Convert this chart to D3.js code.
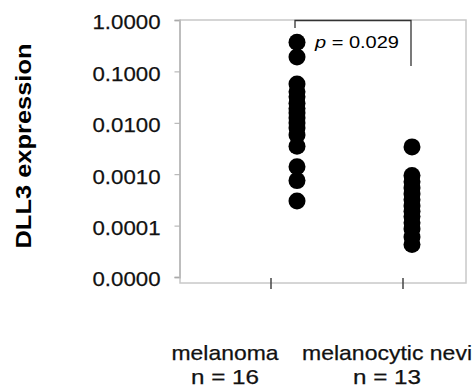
<!DOCTYPE html>
<html>
<head>
<meta charset="utf-8">
<title>DLL3 expression</title>
<script src="https://d3js.org/d3.v7.min.js"></script>
<style>
  body { margin: 0; background: #fff; font-family: "Liberation Sans", Arial, sans-serif; }
  svg { display: block; }
</style>
</head>
<body>
<svg width="474" height="388"></svg>
<script>
// values
const groups = ["melanoma", "melanocytic nevi"];
const groupN = [16, 13];
const melanoma = [0.37, 0.19, 0.057, 0.040, 0.032, 0.024, 0.019, 0.0155, 0.0124,
                  0.0099, 0.0079, 0.0058, 0.0035, 0.0014, 0.00075, 0.0003];
const nevi = [0.0034, 0.00094, 0.00071, 0.00054, 0.00041, 0.00032, 0.00024,
              0.00019, 0.00015, 0.000113, 0.000086, 0.00006, 0.000043];
const yTicks = [1, 0.1, 0.01, 0.001, 0.0001, 0.00001];
const pLabel = "0.029";

const svg = d3.select("svg");

// frame of the plot area
svg.append("rect")
  .attr("x", 180).attr("y", 20)
  .attr("width", 286).attr("height", 263)
  .attr("fill", "none")
  .attr("stroke", "#c8c8c8")
  .attr("stroke-width", 1.5);

const y = d3.scaleLog().domain([0.00001, 1]).range([277, 20]);
const x = d3.scaleOrdinal().domain(groups).range([297, 412]);      // dot columns
const xTick = d3.scaleOrdinal().domain(groups).range([271, 403]);  // axis ticks
const xLab = d3.scaleOrdinal().domain(groups).range([225, 387]);   // labels

// y axis
const yAxis = svg.append("g")
  .attr("transform", "translate(179.5,0)")
  .call(d3.axisLeft(y).tickValues(yTicks).tickSize(5).tickPadding(14)
    .tickFormat(d3.format(".4f")));
yAxis.select(".domain").attr("stroke", "#bdbdbd").attr("stroke-width", 2);
yAxis.selectAll(".tick line").attr("stroke", "#aaa");
yAxis.selectAll(".tick text")
  .attr("font-family", "Liberation Sans, Arial, sans-serif")
  .attr("font-size", 21)
  .attr("fill", "#111")
  .attr("stroke", "#111")
  .attr("stroke-width", 0.25)
  .attr("dy", "0.42em")
  .attr("textLength", 68)
  .attr("lengthAdjust", "spacingAndGlyphs");

svg.append("text")
  .attr("transform", "translate(31,146) rotate(-90)")
  .attr("text-anchor", "middle")
  .attr("font-size", 22)
  .attr("font-weight", "bold")
  .attr("textLength", 205)
  .attr("lengthAdjust", "spacingAndGlyphs")
  .text("DLL3 expression");

// x ticks
svg.selectAll(".xtick")
  .data(groups)
  .enter()
  .append("line")
  .attr("class", "xtick")
  .attr("x1", d => xTick(d)).attr("x2", d => xTick(d))
  .attr("y1", 278).attr("y2", 289)
  .attr("stroke", "#444")
  .attr("stroke-width", 1.5);

// category labels
const labs = svg.selectAll(".lab")
  .data(groups)
  .enter()
  .append("g")
  .attr("class", "lab")
  .attr("transform", d => `translate(${xLab(d)},0)`)
  .attr("fill", "#111")
  .attr("stroke", "#111")
  .attr("stroke-width", 0.25);
labs.append("text")
  .attr("y", 360)
  .attr("text-anchor", "middle")
  .attr("font-size", 21)
  .attr("textLength", d => d == "melanoma" ? 107 : 170)
  .attr("lengthAdjust", "spacingAndGlyphs")
  .text(d => d);
labs.append("text")
  .attr("y", 384)
  .attr("text-anchor", "middle")
  .attr("font-size", 21)
  .attr("textLength", 68)
  .attr("lengthAdjust", "spacingAndGlyphs")
  .text((d, i) => "n = " + groupN[i]);

// dots
const points = [];
melanoma.forEach(v => points.push({ g: groups[0], v: v }));
nevi.forEach(v => points.push({ g: groups[1], v: v }));

svg.selectAll("circle")
  .data(points)
  .enter()
  .append("circle")
  .attr("cx", d => x(d.g))
  .attr("cy", d => y(d.v))
  .attr("r", 8.5)
  .attr("fill", "#000");

// significance bracket
const bx1 = x(groups[0]) - 2, bx2 = x(groups[1]) - 1;
svg.append("path")
  .attr("d", `M${bx1},28V20.5H${bx2}V66`)
  .attr("fill", "none")
  .attr("stroke", "#333")
  .attr("stroke-width", 1.3);

const pt = svg.append("text")
  .attr("x", 315).attr("y", 47.5)
  .attr("font-size", 17)
  .attr("textLength", 84)
  .attr("lengthAdjust", "spacingAndGlyphs");
pt.append("tspan").attr("font-style", "italic").text("p");
pt.append("tspan").text(" = " + pLabel);
</script>
</body>
</html>
